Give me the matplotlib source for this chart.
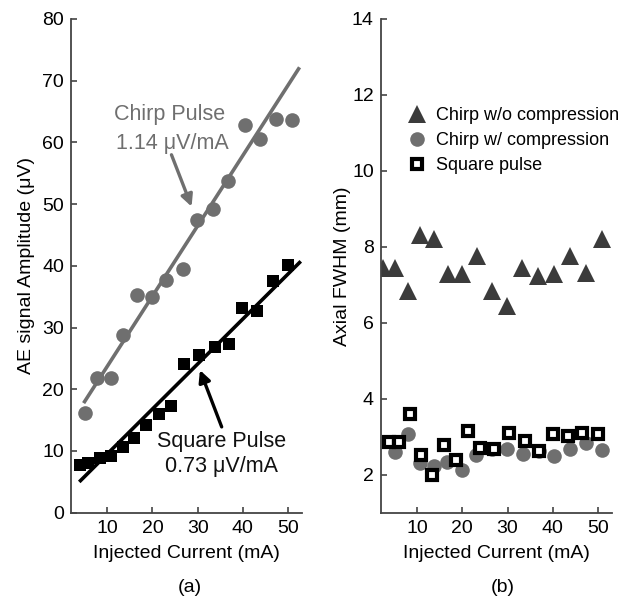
import matplotlib
matplotlib.use("Agg")
import matplotlib.pyplot as plt
import numpy as np

plt.rcParams['font.family'] = ['Liberation Sans', 'DejaVu Sans']

# (a) AE signal amplitude vs injected current
chirpCurrent = [5.1, 7.8, 10.8, 13.5, 16.6, 20.0, 23.1, 26.7, 29.8, 33.4, 36.7, 40.4, 43.7, 47.3, 50.8]
chirpAmplitude = [16.2, 21.8, 21.8, 28.8, 35.3, 35.0, 37.7, 39.5, 47.4, 49.2, 53.8, 62.9, 60.5, 63.8, 63.6]
squareCurrent = [4.0, 5.8, 8.4, 10.75, 13.4, 15.9, 18.55, 21.4, 24.1, 27.0, 30.3, 33.8, 37.0, 39.9, 43.1, 46.6, 49.9]
squareAmplitude = [7.7, 8.0, 8.8, 9.2, 10.6, 12.1, 14.2, 16.0, 17.3, 24.1, 25.6, 26.8, 27.3, 33.1, 32.7, 37.6, 40.1]

# linear fits (slope in uV/mA, intercept in uV) and the range they are drawn over
chirpSlope, chirpIntercept = 1.14, 12.3
chirpFitRange = [5.0, 52.3]
squareSlope, squareIntercept = 0.73, 2.2
squareFitRange = [4.1, 52.5]

# (b) axial FWHM vs injected current
noCompCurrent = [2.6, 5.2, 8.0, 10.7, 13.7, 16.8, 20.0, 23.3, 26.6, 29.9, 33.3, 36.7, 40.2, 43.7, 47.3, 50.8]
noCompFwhm = [7.44, 7.44, 6.85, 8.30, 8.21, 7.29, 7.29, 7.75, 6.85, 6.44, 7.44, 7.24, 7.29, 7.77, 7.30, 8.21]
compCurrent = [5.2, 8.1, 10.6, 13.7, 16.6, 19.9, 23.1, 26.6, 29.9, 33.4, 36.9, 40.2, 43.8, 47.3, 50.8]
compFwhm = [2.59, 3.06, 2.30, 2.24, 2.33, 2.12, 2.53, 2.68, 2.68, 2.55, 2.62, 2.50, 2.68, 2.83, 2.65]
squarePulseCurrent = [3.9, 6.1, 8.5, 10.9, 13.3, 15.9, 18.7, 21.3, 23.9, 27.0, 30.3, 33.8, 36.9, 40.0, 43.3, 46.5, 50.0]
squarePulseFwhm = [2.85, 2.85, 3.59, 2.53, 2.00, 2.79, 2.39, 3.16, 2.70, 2.68, 3.09, 2.90, 2.63, 3.06, 3.03, 3.11, 3.06]

GRAY = "#6f6f6f"
DARK = "#3b3b3b"
FS = 14
NOTE_FS = 15.5


def StyleAxes(ax):
    ax.spines['top'].set_visible(False)
    ax.spines['right'].set_visible(False)
    for side in ['left', 'bottom']:
        ax.spines[side].set_color("#444444")
        ax.spines[side].set_linewidth(1.3)
    ax.tick_params(direction='in', length=4, width=1.2, color="#444444",
                   labelsize=FS, pad=5)
    ax.set_xlim(2, 53)
    ax.set_xticks([10, 20, 30, 40, 50])
    ax.set_xlabel("Injected Current (mA)", fontsize=FS)
    ax.xaxis.set_label_coords(0.5, -0.066)


fig = plt.figure(figsize=(6.37, 6.03), dpi=100)
axA = fig.add_axes([0.1115, 0.1498, 0.3622, 0.8187])
axB = fig.add_axes([0.5977, 0.1498, 0.3626, 0.8187])

# ---- panel (a)
StyleAxes(axA)
axA.set_ylim(0, 80)
axA.set_yticks(range(0, 81, 10))
axA.set_ylabel("AE signal Amplitude (\u03bcV)", fontsize=FS)
axA.yaxis.set_label_coords(-0.155, 0.5)

xc = np.array(chirpFitRange)
axA.plot(xc, chirpSlope * xc + chirpIntercept, color=GRAY, lw=2.6, zorder=3)
xs = np.array(squareFitRange)
axA.plot(xs, squareSlope * xs + squareIntercept, color="black", lw=2.6, zorder=3)

axA.plot(chirpCurrent, chirpAmplitude, 'o', color=GRAY, markersize=10.5, mew=0, zorder=2)
axA.plot(squareCurrent, squareAmplitude, 's', color="black", markersize=9, mew=0, zorder=2)

axA.text(23.7, 64.5, "Chirp Pulse", color=GRAY, fontsize=NOTE_FS, ha='center', va='center')
axA.text(24.5, 59.9, f"{chirpSlope:.2f} \u03bcV/mA", color=GRAY, fontsize=NOTE_FS,
         ha='center', va='center')
axA.annotate("", xy=(28.65, 49.6), xytext=(24.2, 58.0),
             arrowprops=dict(arrowstyle='-|>,head_length=0.7,head_width=0.35',
                             color=GRAY, lw=2.4, shrinkA=0, shrinkB=0))

axA.text(35.3, 11.5, "Square Pulse", color="#111111", fontsize=NOTE_FS, ha='center', va='center')
axA.text(35.3, 7.46, f"{squareSlope:.2f} \u03bcV/mA", color="#111111", fontsize=NOTE_FS,
         ha='center', va='center')
axA.annotate("", xy=(30.5, 23.1), xytext=(35.3, 13.9),
             arrowprops=dict(arrowstyle='-|>,head_length=0.7,head_width=0.35',
                             color="black", lw=2.4, shrinkA=0, shrinkB=0))

# ---- panel (b)
StyleAxes(axB)
axB.set_ylim(1, 14)
axB.set_yticks(range(2, 15, 2))
axB.set_ylabel("Axial FWHM (mm)", fontsize=FS)
axB.yaxis.set_label_coords(-0.13, 0.5)

axB.plot(noCompCurrent, noCompFwhm, '^', color=DARK, markersize=12.5, mew=0,
         label="Chirp w/o compression")
axB.plot(compCurrent, compFwhm, 'o', color=GRAY, markersize=10.5, mew=0,
         label="Chirp w/ compression")
axB.plot(squarePulseCurrent, squarePulseFwhm, 's', mfc="white", mec="black",
         markersize=6.8, mew=3.0, label="Square pulse")

axB.legend(loc='upper left', bbox_to_anchor=(0.12, 0.822), frameon=False,
           fontsize=13, handlelength=1.0, handletextpad=0.5, labelspacing=0.45,
           borderpad=0, borderaxespad=0)

fig.text(190 / 637, 1 - 588 / 603, "(a)", fontsize=FS, ha='center', va='center')
fig.text(503 / 637, 1 - 588 / 603, "(b)", fontsize=FS, ha='center', va='center')

fig.savefig("out.png", dpi=100)
